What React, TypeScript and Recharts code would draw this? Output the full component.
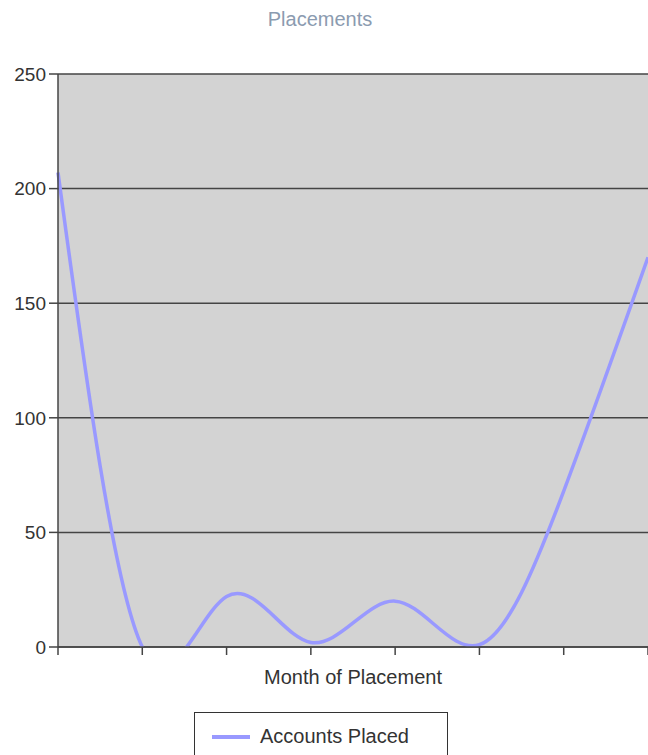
import { LineChart, Line, XAxis, YAxis, CartesianGrid, Legend } from "recharts";

// one point per month; the month names are not printed on the axis
const months = ["Jan", "Feb", "Mar", "Apr", "May", "Jun", "Jul", "Aug"];
const accountsPlaced = [207, 0, 22, 2, 20, 1, 68, 170];
const yTicks = [0, 50, 100, 150, 200, 250];

const data = months.map((month, i) => ({ month, placed: accountsPlaced[i] }));

const axisColor = "#444";
const textColor = "#333";

function PlacementsLegend({ payload }: any) {
  return (
    <div
      style={{
        border: "1.5px solid #333",
        boxSizing: "border-box",
        height: 60,
        paddingTop: 12,
        paddingLeft: 17,
        background: "#fff",
      }}
    >
      {(payload || []).map((entry: any) => (
        <div key={entry.value} style={{ display: "flex", alignItems: "center", height: 23 }}>
          <svg width={38} height={6} style={{ marginRight: 10 }}>
            <line x1={0} y1={3} x2={38} y2={3} stroke={entry.color} strokeWidth={4} />
          </svg>
          <span style={{ fontSize: 20, color: textColor }}>{entry.value}</span>
        </div>
      ))}
    </div>
  );
}

export default function App() {
  return (
    <div
      style={{
        position: "absolute",
        left: 0,
        top: 0,
        width: 648,
        height: 755,
        overflow: "hidden",
        background: "#fff",
        fontFamily: "'Liberation Sans', Arial, sans-serif",
      }}
    >
      <div
        style={{
          position: "absolute",
          top: 8,
          left: 0,
          width: 640,
          textAlign: "center",
          fontSize: 20,
          color: "#8b9bb0",
        }}
      >
        Placements
      </div>
      <LineChart width={648} height={755} data={data} margin={{ top: 74, right: 0, left: 0, bottom: 68 }}>
        <CartesianGrid vertical={false} fill="#d3d3d3" stroke={axisColor} strokeWidth={1.5} />
        <XAxis
          dataKey="month"
          tickFormatter={() => ""}
          tickSize={8}
          height={40}
          axisLine={{ stroke: axisColor, strokeWidth: 1.5 }}
          tickLine={{ stroke: axisColor, strokeWidth: 1.5 }}
          label={{ value: "Month of Placement", position: "insideBottom", offset: 3, fontSize: 20, fill: textColor }}
        />
        <YAxis
          width={58}
          domain={[0, 250]}
          ticks={yTicks}
          allowDataOverflow
          tickSize={9}
          tickMargin={3}
          tick={{ fontSize: 19, fill: textColor }}
          axisLine={{ stroke: axisColor, strokeWidth: 1.5 }}
          tickLine={{ stroke: axisColor, strokeWidth: 1.5 }}
        />
        <Legend
          layout="horizontal"
          verticalAlign="middle"
          align="center"
          wrapperStyle={{ top: 712, left: 194, width: 254 }}
          content={PlacementsLegend}
        />
        <Line
          type="natural"
          dataKey="placed"
          name="Accounts Placed"
          stroke="#9999ff"
          strokeWidth={3.5}
          dot={false}
          isAnimationActive={false}
        />
      </LineChart>
    </div>
  );
}
